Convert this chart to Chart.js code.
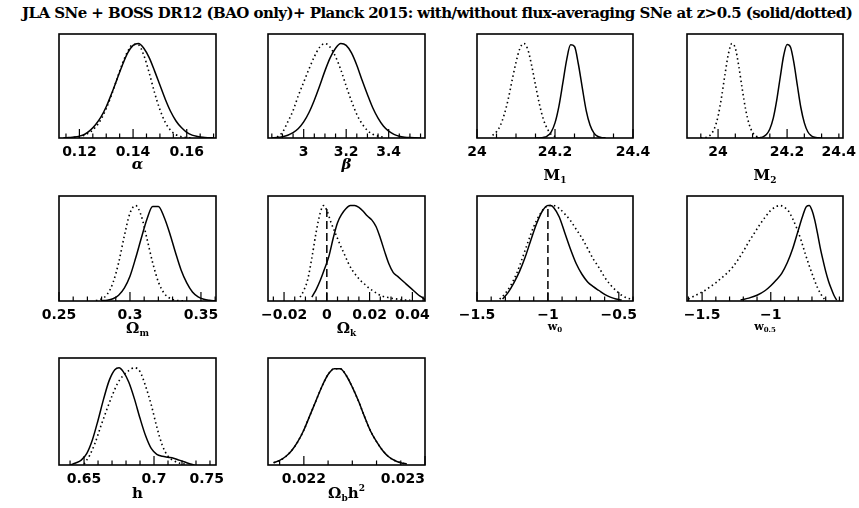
<!DOCTYPE html>
<html>
<head>
<meta charset="utf-8">
<script src="https://cdn.jsdelivr.net/npm/chart.js@4.4.0/dist/chart.umd.min.js"></script>
<style>
  body { margin: 0; background: #fff; width: 859px; height: 508px; overflow: hidden; position: relative; }
  canvas { position: absolute; }
  #title { position: absolute; left: 22px; top: 6px; font: bold 15px "DejaVu Serif"; line-height: 15px; white-space: pre; color: #000; }
</style>
</head>
<body>
<div id="title">JLA SNe + BOSS DR12 (BAO only)+ Planck 2015: with/without flux-averaging SNe at z&gt;0.5 (solid/dotted)</div>
<script>
// alpha
const alphaSolidX = [0.114,0.116,0.118,0.120,0.122,0.124,0.126,0.128,0.130,0.132,0.134,0.136,0.138,0.140,0.142,0.144,0.146,0.148,0.150,0.152,0.154,0.156,0.158,0.160,0.162,0.164,0.166,0.168,0.170];
const alphaSolidY = [0.00,0.005,0.01,0.02,0.04,0.08,0.14,0.22,0.33,0.47,0.62,0.77,0.90,0.98,1.00,0.95,0.85,0.71,0.56,0.41,0.28,0.18,0.11,0.06,0.03,0.016,0.007,0.003,0.001];
const alphaDotX = [0.118,0.120,0.122,0.124,0.126,0.128,0.130,0.132,0.134,0.136,0.138,0.140,0.142,0.144,0.146,0.148,0.150,0.152,0.154,0.156,0.158,0.160,0.162];
const alphaDotY = [0.006,0.014,0.031,0.062,0.114,0.195,0.311,0.458,0.624,0.787,0.916,0.99,0.985,0.875,0.69,0.48,0.30,0.165,0.08,0.035,0.014,0.005,0.002];
const alphaTicks = [0.12, 0.14, 0.16];
const alphaLabels = ['0.12', '0.14', '0.16'];

// beta
const betaSolidX = [2.85,2.875,2.9,2.925,2.95,2.975,3.0,3.025,3.05,3.075,3.1,3.125,3.15,3.175,3.2,3.225,3.25,3.275,3.3,3.325,3.35,3.375,3.4,3.425,3.45,3.475,3.5,3.525,3.55];
const betaSolidY = [0.003,0.006,0.014,0.029,0.056,0.10,0.17,0.27,0.40,0.55,0.71,0.85,0.95,1.0,0.98,0.90,0.77,0.61,0.46,0.32,0.21,0.127,0.072,0.039,0.019,0.009,0.004,0.002,0.001];
const betaDotX = [2.875,2.9,2.925,2.95,2.975,3.0,3.025,3.05,3.075,3.1,3.125,3.15,3.175,3.2,3.225,3.25,3.275,3.3,3.325,3.35,3.375];
const betaDotY = [0.01,0.06,0.17,0.29,0.45,0.59,0.73,0.86,0.96,1.0,0.96,0.86,0.72,0.55,0.39,0.25,0.15,0.08,0.04,0.02,0.01];
const betaTicks = [3, 3.2, 3.4];
const betaLabels = ['3', '3.2', '3.4'];

// M1
const m1SolidX = [24.15,24.16,24.17,24.18,24.19,24.20,24.21,24.22,24.23,24.24,24.25,24.26,24.27,24.28,24.29,24.30,24.31,24.32,24.33];
const m1SolidY = [0.0,0.001,0.006,0.021,0.063,0.16,0.335,0.58,0.83,0.985,0.967,0.78,0.53,0.29,0.135,0.052,0.016,0.004,0.001];
const m1DotX = [24.04,24.05,24.06,24.07,24.08,24.09,24.10,24.11,24.12,24.13,24.14,24.15,24.16,24.17,24.18,24.19,24.20];
const m1DotY = [0.028,0.066,0.135,0.25,0.41,0.61,0.80,0.946,1.0,0.94,0.77,0.56,0.36,0.20,0.10,0.04,0.015];
const m1Ticks = [24, 24.2, 24.4];
const m1Labels = ['24', '24.2', '24.4'];

// M2
const m2SolidX = [24.11,24.12,24.13,24.14,24.15,24.16,24.17,24.18,24.19,24.20,24.21,24.22,24.23,24.24,24.25,24.26,24.27,24.28,24.29,24.30];
const m2SolidY = [0.001,0.003,0.012,0.037,0.096,0.21,0.40,0.64,0.87,0.99,0.96,0.79,0.55,0.32,0.16,0.066,0.024,0.007,0.002,0.0];
const m2DotX = [23.95,23.96,23.97,23.98,23.99,24.00,24.01,24.02,24.03,24.04,24.05,24.06,24.07,24.08,24.09,24.10,24.11,24.12,24.13];
const m2DotY = [0.001,0.004,0.013,0.041,0.105,0.23,0.43,0.67,0.89,1.0,0.95,0.76,0.52,0.30,0.146,0.06,0.021,0.006,0.002];
const m2Ticks = [24, 24.2, 24.4];
const m2Labels = ['24', '24.2', '24.4'];

// Omega_m
const omSolidX = [0.280,0.284,0.288,0.292,0.296,0.300,0.304,0.308,0.312,0.316,0.320,0.324,0.328,0.332,0.336,0.340,0.344,0.348,0.352,0.356,0.360];
const omSolidY = [0.003,0.008,0.024,0.061,0.135,0.26,0.45,0.66,0.86,0.99,0.99,0.88,0.71,0.51,0.325,0.19,0.095,0.044,0.018,0.007,0.002];
const omDotX = [0.276,0.280,0.284,0.288,0.292,0.296,0.300,0.304,0.308,0.312,0.316,0.320,0.324,0.328,0.332,0.336,0.340];
const omDotY = [0.005,0.022,0.07,0.19,0.40,0.68,0.92,1.0,0.89,0.65,0.40,0.20,0.083,0.029,0.008,0.002,0.0];
const omTicks = [0.25, 0.3, 0.35];
const omLabels = ['0.25', '0.3', '0.35'];

// Omega_k
const okSolidX = [-0.007,-0.005,-0.003,-0.001,0.001,0.003,0.005,0.007,0.009,0.011,0.013,0.015,0.017,0.019,0.021,0.023,0.025,0.027,0.029,0.031,0.033,0.035,0.037,0.039,0.041,0.043,0.045,0.046];
const okSolidY = [0.04,0.12,0.22,0.34,0.47,0.66,0.82,0.91,0.97,1.0,1.0,0.98,0.94,0.89,0.85,0.78,0.66,0.52,0.39,0.30,0.26,0.22,0.18,0.14,0.10,0.06,0.03,0.01];
const okDotX = [-0.0125,-0.011,-0.009,-0.007,-0.005,-0.003,-0.0015,0.0,0.002,0.004,0.006,0.008,0.010,0.012,0.014,0.016,0.018,0.020,0.022,0.024,0.026,0.028,0.030,0.033,0.036,0.039];
const okDotY = [0.04,0.10,0.22,0.45,0.72,0.93,1.0,0.95,0.82,0.71,0.60,0.50,0.40,0.32,0.26,0.21,0.17,0.13,0.10,0.07,0.05,0.04,0.03,0.02,0.01,0.01];
const okTicks = [-0.02, 0, 0.02, 0.04];
const okLabels = ['\u22120.02', '0', '0.02', '0.04'];
const okRef = 0;

// w0
const w0SolidX = [-1.32,-1.28,-1.24,-1.20,-1.16,-1.12,-1.08,-1.04,-1.00,-0.98,-0.96,-0.92,-0.88,-0.84,-0.80,-0.76,-0.72,-0.68,-0.64,-0.60,-0.56,-0.52,-0.48];
const w0SolidY = [0.02,0.09,0.19,0.31,0.46,0.64,0.81,0.94,1.0,1.0,0.98,0.88,0.71,0.54,0.39,0.28,0.20,0.15,0.11,0.07,0.04,0.02,0.01];
const w0DotX = [-1.34,-1.30,-1.26,-1.22,-1.18,-1.14,-1.10,-1.06,-1.02,-0.98,-0.96,-0.92,-0.88,-0.84,-0.80,-0.76,-0.72,-0.68,-0.64,-0.60,-0.56,-0.52,-0.48,-0.44,-0.41];
const w0DotY = [0.02,0.08,0.17,0.29,0.45,0.62,0.78,0.90,0.98,1.0,1.0,0.97,0.91,0.84,0.75,0.66,0.55,0.44,0.35,0.25,0.17,0.11,0.06,0.03,0.02];
const w0Ticks = [-1.5, -1, -0.5];
const w0Labels = ['\u22121.5', '\u22121', '\u22120.5'];
const w0Ref = -1;

// w0.5
const w05SolidX = [-1.22,-1.16,-1.10,-1.04,-1.00,-0.96,-0.92,-0.88,-0.84,-0.80,-0.77,-0.74,-0.72,-0.70,-0.68,-0.66,-0.64,-0.62,-0.60,-0.58,-0.56,-0.54,-0.52];
const w05SolidY = [0.01,0.03,0.06,0.11,0.16,0.22,0.29,0.40,0.55,0.74,0.88,0.99,1.0,0.95,0.85,0.71,0.56,0.43,0.31,0.21,0.13,0.06,0.01];
const w05DotX = [-1.60,-1.56,-1.52,-1.48,-1.44,-1.40,-1.36,-1.32,-1.28,-1.24,-1.20,-1.16,-1.12,-1.08,-1.04,-1.00,-0.96,-0.93,-0.90,-0.87,-0.84,-0.81,-0.78,-0.75,-0.72,-0.69,-0.66,-0.63,-0.61];
const w05DotY = [0.02,0.05,0.08,0.11,0.15,0.19,0.24,0.29,0.35,0.43,0.52,0.62,0.71,0.80,0.88,0.95,0.99,1.0,0.98,0.94,0.86,0.76,0.64,0.50,0.37,0.25,0.14,0.06,0.02];
const w05Ticks = [-1.5, -1];
const w05Labels = ['\u22121.5', '\u22121'];

// h
const hSolidX = [0.640,0.644,0.648,0.652,0.656,0.660,0.664,0.668,0.672,0.675,0.678,0.682,0.686,0.690,0.694,0.698,0.702,0.706,0.710,0.714,0.718,0.722,0.726,0.729];
const hSolidY = [0.0,0.02,0.05,0.12,0.26,0.46,0.68,0.87,0.98,1.0,0.96,0.85,0.68,0.48,0.30,0.17,0.11,0.09,0.08,0.07,0.05,0.03,0.01,0.0];
const hDotX = [0.650,0.654,0.658,0.662,0.666,0.670,0.674,0.678,0.682,0.686,0.690,0.694,0.698,0.702,0.706,0.710,0.714,0.718,0.722];
const hDotY = [0.01,0.10,0.23,0.40,0.56,0.71,0.84,0.92,0.97,1.0,0.96,0.81,0.62,0.39,0.20,0.09,0.045,0.02,0.01];
const hTicks = [0.65, 0.7, 0.75];
const hLabels = ['0.65', '0.7', '0.75'];

// Omega_b h^2
const obhSolidX = [0.02175,0.0218,0.02185,0.0219,0.02195,0.022,0.02205,0.0221,0.02215,0.0222,0.02225,0.0223,0.02235,0.0224,0.02245,0.0225,0.02255,0.0226,0.02265,0.0227,0.02275,0.0228,0.02285];
const obhSolidY = [0.024,0.047,0.087,0.15,0.24,0.36,0.51,0.66,0.81,0.93,0.99,0.99,0.92,0.80,0.66,0.50,0.35,0.24,0.15,0.085,0.046,0.023,0.011];
const obhDotX = [0.02175,0.0218,0.02185,0.0219,0.02195,0.022,0.02205,0.0221,0.02215,0.0222,0.02225,0.0223,0.02235,0.0224,0.02245,0.0225,0.02255,0.0226,0.02265,0.0227,0.02275,0.0228,0.02285];
const obhDotY = [0.024,0.047,0.087,0.15,0.24,0.36,0.51,0.66,0.81,0.93,0.99,0.99,0.92,0.80,0.66,0.50,0.35,0.24,0.15,0.085,0.046,0.023,0.011];
const obhTicks = [0.022, 0.023];
const obhLabels = ['0.022', '0.023'];

// panel layout: box = [left, top, width, height] of the plot frame
const panels = [
  { box: [59, 34, 157, 104], min: 0.1124, max: 0.1709, minor: 0.005, ticks: alphaTicks, labels: alphaLabels,
    sx: alphaSolidX, sy: alphaSolidY, dx: alphaDotX, dy: alphaDotY, title: [{ t: 'α', it: true }], tdy: 27 },
  { box: [268, 34, 157, 104], min: 2.832, max: 3.571, minor: 0.05, ticks: betaTicks, labels: betaLabels,
    sx: betaSolidX, sy: betaSolidY, dx: betaDotX, dy: betaDotY, title: [{ t: 'β', it: true }], tdy: 27 },
  { box: [477, 34, 156, 104], min: 24.0, max: 24.4, minor: 0.05, ticks: m1Ticks, labels: m1Labels,
    sx: m1SolidX, sy: m1SolidY, dx: m1DotX, dy: m1DotY, title: [{ t: 'M' }, { t: '1', sub: true }], tdy: 38 },
  { box: [687, 34, 156, 104], min: 23.91, max: 24.362, minor: 0.05, ticks: m2Ticks, labels: m2Labels, inner: true,
    sx: m2SolidX, sy: m2SolidY, dx: m2DotX, dy: m2DotY, title: [{ t: 'M' }, { t: '2', sub: true }], tdy: 38 },
  { box: [59, 196, 157, 105], min: 0.25, max: 0.3606, minor: 0.01, ticks: omTicks, labels: omLabels,
    sx: omSolidX, sy: omSolidY, dx: omDotX, dy: omDotY, title: [{ t: 'Ω' }, { t: 'm', sub: true }], tdy: 28 },
  { box: [268, 196, 157, 105], min: -0.0275, max: 0.0459, minor: 0.005, ticks: okTicks, labels: okLabels, ref: okRef,
    sx: okSolidX, sy: okSolidY, dx: okDotX, dy: okDotY, title: [{ t: 'Ω' }, { t: 'k', sub: true }], tdy: 28 },
  { box: [477, 196, 156, 105], min: -1.5, max: -0.4, minor: 0.1, ticks: w0Ticks, labels: w0Labels, ref: w0Ref,
    sx: w0SolidX, sy: w0SolidY, dx: w0DotX, dy: w0DotY, title: [{ t: 'w', small: true }, { t: '0', sub: true, small: true }], tdy: 26 },
  { box: [687, 196, 156, 105], min: -1.61, max: -0.474, minor: 0.1, ticks: w05Ticks, labels: w05Labels,
    sx: w05SolidX, sy: w05SolidY, dx: w05DotX, dy: w05DotY, title: [{ t: 'w', small: true }, { t: '0.5', sub: true, small: true }], tdy: 26 },
  { box: [59, 358, 157, 107], min: 0.6321, max: 0.7443, minor: 0.01, ticks: hTicks, labels: hLabels, inner: true,
    sx: hSolidX, sy: hSolidY, dx: hDotX, dy: hDotY, title: [{ t: 'h' }], tdy: 29 },
  { box: [268, 358, 157, 107], min: 0.021704, max: 0.023, minor: 0.0002, ticks: obhTicks, labels: obhLabels, inner: true,
    sx: obhSolidX, sy: obhSolidY, dx: obhDotX, dy: obhDotY, title: [{ t: 'Ω' }, { t: 'b', sub: true }, { t: 'h' }, { t: '2', sup: true }], tdy: 29 }
];

const pts = (xs, ys) => xs.map((x, i) => ({ x: x, y: ys[i] }));

function drawTitle(ctx, parts, cx, cy) {
  const fontFor = p => {
    let size = p.small ? 11 : 15;
    if (p.sub || p.sup) size = Math.round(size * 0.6);
    return (p.it ? 'italic ' : '') + 'bold ' + size + 'px "DejaVu Serif"';
  };
  let total = 0;
  parts.forEach(p => { ctx.font = fontFor(p); total += ctx.measureText(p.t).width; });
  let x = cx - total / 2;
  ctx.textBaseline = 'middle';
  ctx.textAlign = 'left';
  ctx.fillStyle = '#000';
  parts.forEach(p => {
    ctx.font = fontFor(p);
    const dy = p.sub ? (p.small ? 3 : 5) : p.sup ? -5 : 0;
    ctx.fillText(p.t, x, cy + dy);
    x += ctx.measureText(p.t).width;
  });
}

function framePlugin(p) {
  return {
    id: 'panelFrame',
    afterDraw(chart) {
      const ctx = chart.ctx, a = chart.chartArea, x = chart.scales.x;
      ctx.save();
      ctx.strokeStyle = '#000';
      ctx.lineWidth = 1.2;
      ctx.beginPath();
      p.ticks.forEach(v => {
        if (v < x.min - 1e-9 || v > x.max + 1e-9) return;
        const px = x.getPixelForValue(v);
        ctx.moveTo(px, a.bottom); ctx.lineTo(px, a.bottom - 9);
      });
      for (let k = Math.ceil(x.min / p.minor - 1e-6); k * p.minor <= x.max + 1e-9; k++) {
        const v = k * p.minor;
        if (p.ticks.some(t => Math.abs(t - v) < p.minor / 10)) continue;
        const px = x.getPixelForValue(v);
        ctx.moveTo(px, a.bottom); ctx.lineTo(px, a.bottom - 4.5);
      }
      ctx.stroke();
      ctx.lineWidth = 1.6;
      ctx.strokeRect(a.left, a.top, a.right - a.left, a.bottom - a.top);
      drawTitle(ctx, p.title, (a.left + a.right) / 2, a.bottom + p.tdy);
      ctx.restore();
    }
  };
}

panels.forEach(p => {
  const cv = document.createElement('canvas');
  cv.width = p.box[2] + 60;
  cv.height = p.box[3] + 55;
  cv.style.left = (p.box[0] - 30) + 'px';
  cv.style.top = (p.box[1] - 5) + 'px';
  document.body.appendChild(cv);

  const datasets = [
    { data: pts(p.sx, p.sy), borderColor: '#000', borderWidth: 1.5 },
    { data: pts(p.dx, p.dy), borderColor: '#000', borderWidth: 1.6, borderDash: [1.5, 3] }
  ];
  if (p.ref !== undefined) {
    datasets.push({ data: [{ x: p.ref, y: 0 }, { x: p.ref, y: 1 }], borderColor: '#000', borderWidth: 1.5,
      borderDash: [8, 4], cubicInterpolationMode: 'default', tension: 0 });
  }
  const tickVals = p.inner ? [p.min].concat(p.ticks) : p.ticks.slice();

  new Chart(cv, {
    type: 'line',
    data: { datasets: datasets },
    options: {
      responsive: false,
      animation: false,
      devicePixelRatio: 1,
      layout: { padding: { left: 30, right: 30, top: 5, bottom: 0 } },
      elements: { point: { radius: 0 }, line: { cubicInterpolationMode: 'monotone', fill: false } },
      plugins: { legend: { display: false }, tooltip: { enabled: false } },
      scales: {
        x: {
          type: 'linear', min: p.min, max: p.max,
          grid: { display: false, drawTicks: false },
          border: { display: false },
          afterBuildTicks: s => { s.ticks = tickVals.map(v => ({ value: v })); },
          afterFit: s => { s.height = 50; },
          ticks: {
            autoSkip: false, maxRotation: 0, minRotation: 0, padding: 6, color: '#000',
            align: p.inner ? 'inner' : 'center',
            font: { family: 'DejaVu Sans', size: 14, weight: 'bold' },
            callback: v => {
              const i = p.ticks.findIndex(t => Math.abs(t - v) < 1e-9);
              return i < 0 ? '' : p.labels[i];
            }
          }
        },
        y: { display: false, min: 0, max: 1.1 }
      }
    },
    plugins: [framePlugin(p)]
  });
});

// stretch the heading across the figure width
const titleEl = document.getElementById('title');
const mctx = document.createElement('canvas').getContext('2d');
mctx.font = 'bold 15px "DejaVu Serif"';
const tw = mctx.measureText(titleEl.textContent).width;
titleEl.style.letterSpacing = ((829 - tw) / titleEl.textContent.length) + 'px';
</script>
</body>
</html>
